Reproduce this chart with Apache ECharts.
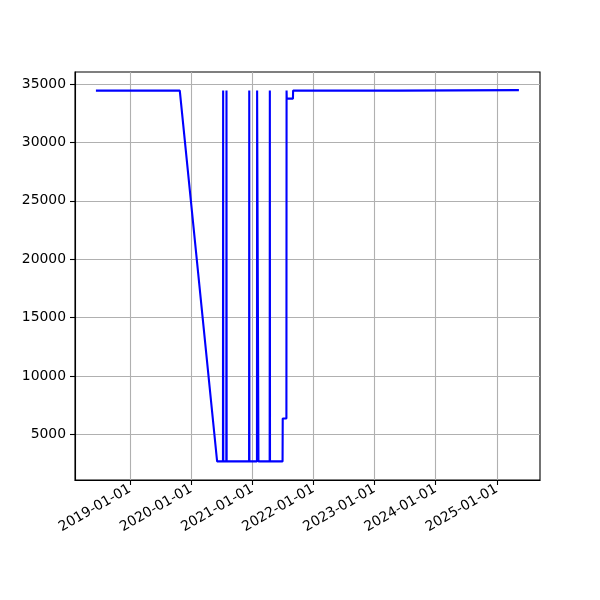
<!DOCTYPE html>
<html>
<head>
<meta charset="utf-8">
<script src="https://cdn.jsdelivr.net/npm/echarts@6/dist/echarts.min.js"></script>
<style>html,body{margin:0;padding:0;background:#fff}#c{width:600px;height:600px}</style>
</head>
<body>
<div id="c"></div>
<script>
const dates = ['2018-06-12','2019-10-26','2020-06-05','2020-07-10','2020-07-11','2020-07-12','2020-07-30','2020-07-31','2020-08-01','2020-12-13','2020-12-14','2020-12-15','2021-01-29','2021-01-30','2021-02-06','2021-02-07','2021-04-15','2021-04-16','2021-04-17','2021-07-01','2021-07-02','2021-07-24','2021-07-25','2021-07-26','2021-09-01','2021-09-02','2023-05-23','2023-05-24','2025-05-13'];
const values = [34430,34430,2700,2700,34430,2700,2700,34430,2700,2700,34430,2700,2700,34430,34430,2700,2700,34430,2700,2700,6370,6370,34430,33740,33740,34430,34430,34470,34470];
const xTicks = ['2019-01-01','2020-01-01','2021-01-01','2022-01-01','2023-01-01','2024-01-01','2025-01-01'];
const yTicks = [5000,10000,15000,20000,25000,30000,35000];

const ts = d => Date.parse(d + 'T00:00:00Z');
const data = dates.map((d,i) => [ts(d), values[i]]);
const xTickVals = xTicks.map(ts);
const pad = n => String(n).padStart(2,'0');
const fmtDate = v => { const d = new Date(v); return d.getUTCFullYear() + '-' + pad(d.getUTCMonth()+1) + '-' + pad(d.getUTCDate()); };

const chart = echarts.init(document.getElementById('c'), null, {renderer:'canvas'});
const font = 'DejaVu Sans';
chart.setOption({
  animation: false,
  backgroundColor: '#ffffff',
  grid: {left: 75, right: 60, top: 72, bottom: 120, show: true, borderColor: '#000', borderWidth: 1.1, containLabel: false},
  xAxis: {
    type: 'value',
    min: ts('2018-02-07'),
    max: ts('2025-09-16'),
    axisLine: {show: true, onZero: false, lineStyle: {color: '#000', width: 1.1}},
    axisTick: {show: true, length: 5, inside: false, lineStyle: {color: '#000', width: 1.1}, customValues: xTickVals},
    axisLabel: {show: true, customValues: xTickVals, formatter: v => fmtDate(v), rotate: 30, margin: 8, color: '#000', fontFamily: font, fontSize: 13.9},
    splitLine: {show: true, lineStyle: {color: '#b0b0b0', width: 1.1}}
  },
  yAxis: {
    type: 'value',
    min: 1110,
    max: 36020,
    axisLine: {show: true, onZero: false, lineStyle: {color: '#000', width: 1.1}},
    axisTick: {show: true, length: 5, inside: false, lineStyle: {color: '#000', width: 1.1}, customValues: yTicks},
    axisLabel: {show: true, customValues: yTicks, formatter: v => String(v), margin: 9, color: '#000', fontFamily: font, fontSize: 13.9},
    splitLine: {show: true, lineStyle: {color: '#b0b0b0', width: 1.1}}
  },
  series: [{
    type: 'line',
    data: data,
    showSymbol: false,
    symbol: 'none',
    lineStyle: {color: '#0000ff', width: 2.1},
    itemStyle: {color: '#0000ff'}
  }]
});
</script>
</body>
</html>
